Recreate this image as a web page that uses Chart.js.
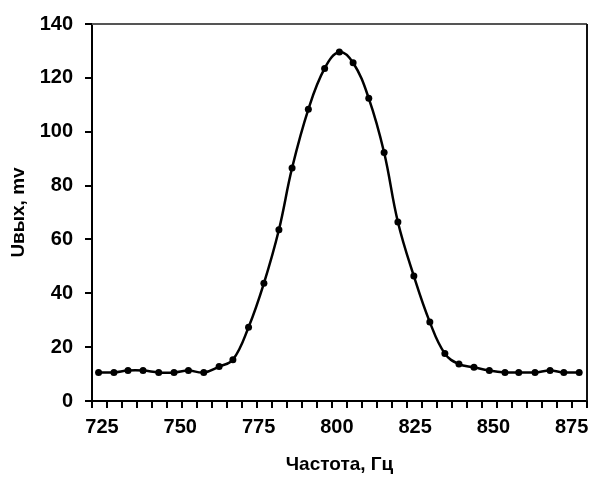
<!DOCTYPE html>
<html>
<head>
<meta charset="utf-8">
<script src="https://cdn.jsdelivr.net/npm/chart.js@4/dist/chart.umd.min.js"></script>
<style>
  html, body { margin: 0; padding: 0; background: #fff; }
  #wrap { width: 598px; height: 480px; }
</style>
</head>
<body>
<div id="wrap"><canvas id="c" width="598" height="480"></canvas></div>
<script>
// ---- data ----
const freqHz = [723.9, 728.8, 733.3, 738.1, 743.1, 748.0, 752.6, 757.5, 762.4, 766.8, 771.8,
                776.7, 781.5, 785.7, 790.9, 796.1, 800.8, 805.2, 810.2, 815.1, 819.5, 824.6,
                829.7, 834.5, 839.0, 843.8, 848.7, 853.7, 858.1, 863.3, 868.1, 872.5, 877.4];
const uOutMv = [10.6, 10.6, 11.3, 11.3, 10.6, 10.6, 11.3, 10.6, 12.8, 15.3, 27.4,
                43.7, 63.6, 86.5, 108.3, 123.5, 129.6, 125.6, 112.4, 92.3, 66.5, 46.4,
                29.3, 17.6, 13.7, 12.5, 11.3, 10.6, 10.6, 10.6, 11.3, 10.6, 10.6];
const xTickLabels = [725, 750, 775, 800, 825, 850, 875];
const yTickLabels = [0, 20, 40, 60, 80, 100, 120, 140];
const xTitle = 'Частота, Гц';
const yTitle = 'Uвых, mv';

// axis extent and number of minor tick intervals (layout)
const X_MIN = 721.8, X_MAX = 879.9, X_DIVS = 33;

const FONT_FAMILY = "'Liberation Sans', Arial, sans-serif";

const points = freqHz.map((f, i) => ({ x: f, y: uOutMv[i] }));

const boxPlugin = {
  id: 'box',
  beforeDatasetsDraw(chart) {
    const a = chart.chartArea, ctx = chart.ctx;
    ctx.save();
    ctx.lineWidth = 2;
    ctx.strokeStyle = '#555';
    ctx.beginPath();
    ctx.moveTo(a.left, a.top);
    ctx.lineTo(a.right, a.top);
    ctx.stroke();
    ctx.strokeStyle = '#111';
    ctx.beginPath();
    ctx.moveTo(a.right, a.top);
    ctx.lineTo(a.right, a.bottom);
    ctx.stroke();
    ctx.restore();
  }
};

new Chart(document.getElementById('c'), {
  type: 'line',
  data: {
    datasets: [{
      data: points,
      borderColor: '#000',
      backgroundColor: '#000',
      borderWidth: 2.5,
      pointRadius: 3.5,
      pointBorderWidth: 0,
      pointBackgroundColor: '#000',
      tension: 0.4,
      fill: false
    }]
  },
  options: {
    responsive: false,
    animation: false,
    events: [],
    layout: { padding: { top: 19, right: 11, left: 0, bottom: 0 } },
    plugins: { legend: { display: false }, tooltip: { enabled: false } },
    scales: {
      x: {
        type: 'linear',
        min: X_MIN,
        max: X_MAX,
        afterBuildTicks(scale) {
          const ticks = [];
          for (let k = 0; k <= X_DIVS; k++) {
            ticks.push({ value: X_MIN + k * (X_MAX - X_MIN) / X_DIVS, isLabel: false });
          }
          xTickLabels.forEach(v => ticks.push({ value: v, isLabel: true }));
          ticks.sort((a, b) => a.value - b.value);
          scale.ticks = ticks;
        },
        afterFit(scale) { scale.height = 79; },
        border: { display: true, color: '#000', width: 2 },
        grid: {
          display: true,
          drawOnChartArea: false,
          drawTicks: true,
          tickLength: 7,
          lineWidth: 2,
          color: '#000',
          tickWidth: 2,
          tickColor: (ctx) => (ctx.tick && ctx.tick.isLabel) ? 'rgba(0,0,0,0)' : '#000'
        },
        ticks: {
          autoSkip: false,
          maxRotation: 0,
          padding: 7,
          color: '#000',
          font: { family: FONT_FAMILY, size: 20, weight: 'bold' },
          callback: function (value, index, ticks) {
            return ticks[index].isLabel ? String(value) : '';
          }
        },
        title: {
          display: true,
          text: xTitle,
          color: '#000',
          font: { family: FONT_FAMILY, size: 19, weight: 'bold' },
          padding: { top: 0, bottom: 4 }
        }
      },
      y: {
        type: 'linear',
        min: 0,
        max: 140,
        afterBuildTicks(scale) {
          scale.ticks = yTickLabels.map(v => ({ value: v }));
        },
        afterFit(scale) { scale.width = 92; },
        border: { display: true, color: '#000', width: 2 },
        grid: {
          display: true,
          drawOnChartArea: false,
          drawTicks: true,
          tickLength: 7,
          lineWidth: 2,
          color: '#000',
          tickWidth: 2,
          tickColor: '#000'
        },
        ticks: {
          padding: 12,
          color: '#000',
          font: { family: FONT_FAMILY, size: 20, weight: 'bold' }
        },
        title: {
          display: true,
          text: yTitle,
          color: '#000',
          font: { family: FONT_FAMILY, size: 19, weight: 'bold' },
          padding: { top: 7, bottom: 0 }
        }
      }
    }
  },
  plugins: [boxPlugin]
});
</script>
</body>
</html>
